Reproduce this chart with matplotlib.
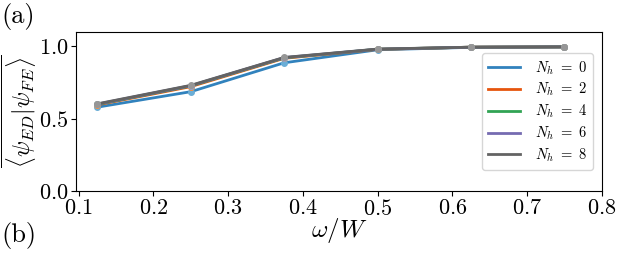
import numpy as np
import matplotlib
matplotlib.use('Agg')
import matplotlib.pyplot as plt

plt.rcParams['mathtext.fontset'] = 'cm'
plt.rcParams['font.family'] = 'serif'
plt.rcParams['font.serif'] = ['cmr10']
plt.rcParams['axes.formatter.use_mathtext'] = True

omega = [0.125, 0.25, 0.375, 0.5, 0.625, 0.75]
nh_labels = [0, 2, 4, 6, 8]
overlap = {
    0: [0.580, 0.687, 0.887, 0.977, 0.994, 0.997],
    2: [0.596, 0.722, 0.918, 0.980, 0.995, 0.997],
    4: [0.599, 0.727, 0.921, 0.981, 0.995, 0.997],
    6: [0.601, 0.729, 0.923, 0.981, 0.995, 0.997],
    8: [0.603, 0.731, 0.924, 0.982, 0.995, 0.997],
}
line_colors = ['#3182bd', '#e6550d', '#31a354', '#756bb1', '#636363']
marker_colors = ['#6baed6', '#fd8d3c', '#74c476', '#9e9ac8', '#969696']

fig = plt.figure(figsize=(6.23, 2.54), dpi=100)
ax = fig.add_axes([0.122, 0.248, 0.844, 0.626])
for nh, lc, mc in zip(nh_labels, line_colors, marker_colors):
    ax.plot(omega, overlap[nh], color=lc, lw=2, label=r'$N_h\ =\ %d$' % nh)
    ax.plot(omega, overlap[nh], 'o', color=mc, ms=4, zorder=3)

ax.set_xlim(0.0965, 0.8)
ax.set_ylim(0, 1.1)
ax.set_xticks([0.1, 0.2, 0.3, 0.4, 0.5, 0.6, 0.7, 0.8])
ax.set_yticks([0.0, 0.5, 1.0])
ax.tick_params(labelsize=16, pad=2)
ax.set_xlabel(r'$\omega/W$', fontsize=18, labelpad=-2)
ax.set_ylabel(r'$\overline{\langle\psi_{ED}|\psi_{FE}\rangle}$', fontsize=17, labelpad=0)
ax.legend(loc='center right', fontsize=10.5, handlelength=2.2,
          borderaxespad=0.6, labelspacing=0.3, handletextpad=1.0)

fig.text(0.003, 0.99, '(a)', fontsize=19, va='top', ha='left')
fig.text(0.003, 0.02, '(b)', fontsize=19, va='bottom', ha='left')

fig.savefig('out.png', dpi=100)
